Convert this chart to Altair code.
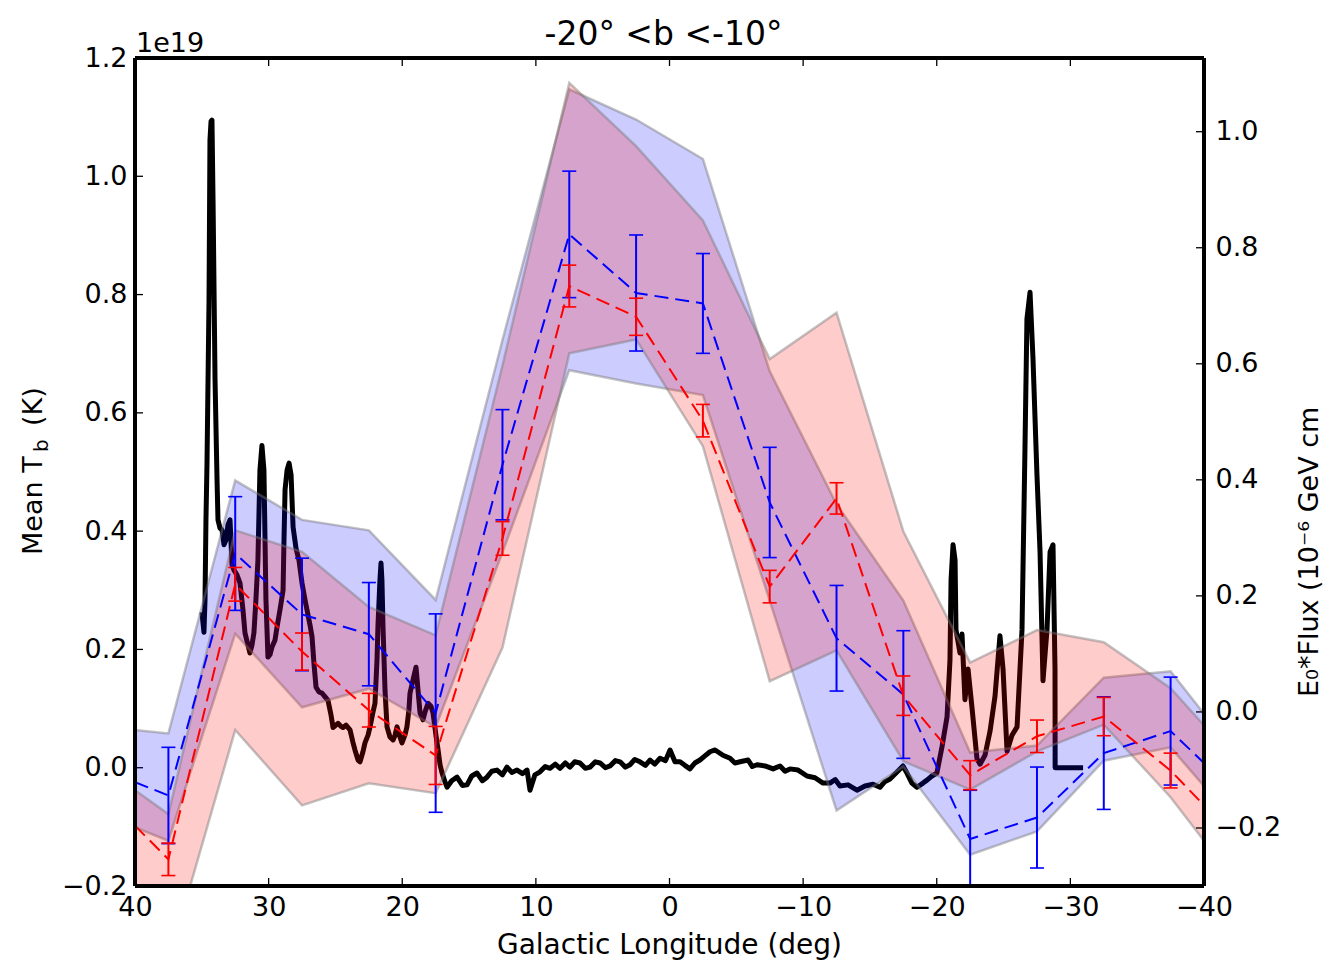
import altair as alt
import pandas as pd

# ---------------- data ----------------
# longitude bins (edges at +/-40 are the plot borders)
L_LINE = [40, 37.5, 32.5, 27.5, 22.5, 17.5, 12.5, 7.5, 2.5, -2.5, -7.5,
          -12.5, -17.5, -22.5, -27.5, -32.5, -37.5, -40]
BLUE_MEAN = [-0.121, -0.144, 0.273, 0.168, 0.134, -0.002, 0.426, 0.823, 0.722,
             0.704, 0.361, 0.127, 0.030, -0.219, -0.182, -0.071, -0.033, -0.088]
RED_MEAN = [-0.196, -0.254, 0.220, 0.104, 0.003, -0.075, 0.299, 0.734, 0.681,
            0.502, 0.216, 0.368, 0.028, -0.109, -0.042, -0.008, -0.101, -0.161]

L_ERR = [37.5, 32.5, 27.5, 22.5, 17.5, 12.5, 7.5, 2.5, -2.5, -7.5,
         -12.5, -17.5, -22.5, -27.5, -32.5, -37.5]
BLUE_ERR = [0.083, 0.098, 0.097, 0.089, 0.171, 0.095, 0.109, 0.100, 0.086,
            0.095, 0.091, 0.110, 0.084, 0.087, 0.097, 0.093]
RED_ERR = [0.028, 0.029, 0.032, 0.029, 0.050, 0.029, 0.036, 0.032, 0.028,
           0.028, 0.027, 0.034, 0.025, 0.028, 0.033, 0.030]

BLUE_HI = [-0.031, -0.037, 0.399, 0.331, 0.313, 0.193, 0.641, 1.073, 1.021,
           0.953, 0.587, 0.358, 0.192, -0.070, -0.058, 0.059, 0.070, -0.003]
BLUE_LO = [-0.199, -0.222, 0.135, 0.008, 0.040, -0.026, 0.275, 0.589, 0.566,
           0.546, 0.192, -0.170, -0.094, -0.246, -0.206, -0.084, -0.061, -0.128]
RED_HI = [-0.135, -0.176, 0.313, 0.276, 0.181, 0.132, 0.597, 1.084, 0.975,
          0.847, 0.608, 0.688, 0.311, 0.085, 0.141, 0.120, 0.041, -0.023]
RED_LO = [-0.550, -0.430, -0.031, -0.161, -0.123, -0.140, 0.111, 0.618, 0.642,
          0.458, 0.053, 0.106, -0.085, -0.134, -0.068, -0.022, -0.147, -0.222]

# mean brightness temperature profile (units of 1e19 K)
TB_L = [34.99, 34.84, 34.76, 34.69, 34.61, 34.46, 34.39, 34.31, 34.24, 34.16,
        34.01, 33.86, 33.79, 33.64, 33.49, 33.34, 33.19, 33.04, 32.89, 32.74,
        32.59, 32.37, 32.14, 31.92, 31.77, 31.54, 31.40, 31.25, 31.10, 30.95,
        30.80, 30.65, 30.50, 30.35, 30.20, 30.05, 29.90, 29.75, 29.52, 29.37,
        29.15, 28.92, 28.85, 28.77, 28.62, 28.47, 28.32, 28.17, 27.95, 27.73,
        27.50, 27.28, 27.13, 26.90, 26.75, 26.60, 26.45, 26.23, 26.01, 25.78,
        25.56, 25.33, 25.18, 24.96, 24.81, 24.59, 24.43, 24.21, 23.91, 23.69,
        23.54, 23.31, 23.16, 22.94, 22.79, 22.56, 22.41, 22.19, 22.04, 21.89,
        21.82, 21.67, 21.59, 21.52, 21.44, 21.29, 21.14, 20.92, 20.69, 20.54,
        20.39, 20.17, 20.02, 19.80, 19.65, 19.50, 19.42, 19.20, 18.97, 18.82,
        18.67, 18.45, 18.30, 18.07, 17.85, 17.70, 17.48, 17.32, 17.17, 17.02,
        16.80, 16.65, 16.30, 15.90, 15.50, 15.15, 14.80, 14.41, 14.00, 13.66,
        13.30, 12.91, 12.50, 12.16, 11.80, 11.41, 11.00, 10.66,
        10.44, 10.07, 9.69, 9.30, 8.94, 8.55, 8.19, 7.80, 7.45, 7.10, 6.70,
        6.30, 5.95, 5.55, 5.20, 4.80, 4.45,
        4.05, 3.70, 3.30, 2.96, 2.60, 2.21, 1.80, 1.46, 1.10, 0.71, 0.30,
        -0.04, -0.41, -0.79, -1.15, -1.53, -1.90, -2.28,
        -2.65, -3.03, -3.41, -4.00, -4.53, -4.90, -5.28, -5.88, -6.20, -6.55,
        -7.15, -7.75, -8.27, -8.65,
        -9.02, -9.62, -10.29, -10.89, -11.49, -12.01, -12.40, -12.76, -13.36,
        -14.03, -14.63, -15.23, -15.75, -16.10, -16.50, -17.25, -17.47, -17.77,
        -18.14, -18.52, -18.97, -19.27,
        -19.64, -20.01, -20.39, -20.77, -20.99, -21.07, -21.22, -21.37, -21.44, -21.74,
        -21.89, -22.11, -22.34, -22.64, -23.01, -23.24, -23.61, -23.99, -24.36, -24.73,
        -24.96, -25.26, -25.63, -26.01, -26.38, -26.60, -26.75, -26.98, -27.20, -27.50,
        -27.73, -27.95, -28.25, -28.48, -28.70, -28.85, -28.86, -30.95]
TB_VAL = [0.263, 0.229, 0.284, 0.419, 0.517, 0.791, 1.061, 1.093, 1.095, 0.960,
          0.656, 0.486, 0.419, 0.405, 0.402, 0.377, 0.385, 0.411, 0.419, 0.343,
          0.334, 0.326, 0.312, 0.267, 0.228, 0.207, 0.194, 0.207, 0.228, 0.284,
          0.351, 0.503, 0.545, 0.503, 0.284, 0.187, 0.191, 0.204, 0.216, 0.238,
          0.267, 0.300, 0.385, 0.470, 0.503, 0.515, 0.495, 0.407, 0.371, 0.351,
          0.312, 0.284, 0.267, 0.241, 0.221, 0.174, 0.136, 0.128, 0.126, 0.120,
          0.114, 0.089, 0.068, 0.072, 0.075, 0.070, 0.068, 0.072, 0.064, 0.043,
          0.030, 0.013, 0.010, 0.027, 0.042, 0.055, 0.069, 0.094, 0.109, 0.182,
          0.238, 0.317, 0.346, 0.317, 0.238, 0.131, 0.069, 0.052, 0.047, 0.055,
          0.069, 0.052, 0.042, 0.055, 0.069, 0.098, 0.126, 0.148, 0.170, 0.131,
          0.093, 0.081, 0.094, 0.109, 0.104, 0.093, 0.055, 0.030, 0.005, -0.009,
          -0.024, -0.033, -0.022, -0.016, -0.030, -0.029, -0.014, -0.009, -0.022, -0.016,
          -0.006, -0.004, -0.012, 0.001, -0.008, -0.004, -0.010, -0.004,
          -0.038, -0.012, -0.007, 0.002, -0.001, 0.006, -0.001, 0.008, 0.001, 0.010, 0.008,
          -0.001, 0.001, 0.010, 0.008, 0.000, 0.003,
          0.012, 0.010, 0.001, 0.005, 0.014, 0.010, 0.004, 0.013, 0.006, 0.016, 0.012,
          0.030, 0.010, 0.010, 0.004, -0.002, 0.008, 0.013,
          0.020, 0.027, 0.030, 0.021, 0.016, 0.008, 0.010, 0.013, 0.002, 0.005,
          0.003, -0.002, 0.003, -0.006,
          -0.002, -0.004, -0.014, -0.017, -0.026, -0.026, -0.020, -0.031, -0.029,
          -0.038, -0.031, -0.028, -0.033, -0.024, -0.019, -0.002, 0.003, -0.009,
          -0.026, -0.033, -0.026, -0.021,
          -0.014, -0.009, 0.035, 0.086, 0.182, 0.317, 0.377, 0.351, 0.233, 0.194,
          0.226, 0.115, 0.167, 0.101, 0.015, 0.006, 0.021, 0.062, 0.121, 0.223,
          0.167, 0.028, 0.055, 0.069, 0.233, 0.537, 0.759, 0.804, 0.693, 0.495,
          0.365, 0.147, 0.233, 0.365, 0.377, 0.167, 0.000, 0.000]

X_TICKS = [40, 30, 20, 10, 0, -10, -20, -30, -40]
LEFT_TICKS = [-0.2, 0.0, 0.2, 0.4, 0.6, 0.8, 1.0, 1.2]
RIGHT_TICKS = [-0.2, 0.0, 0.2, 0.4, 0.6, 0.8, 1.0]
LEFT_DOMAIN = [-0.2, 1.2]
RIGHT_DOMAIN = [-0.3, 1.127]

TITLE = "-20°  <b <-10°"
X_TITLE = "Galactic Longitude (deg)"
Y_TITLE_MAIN = "Mean T"
Y_TITLE_SUB = "b"
Y_TITLE_END = "(K)"
Y2_TITLE = "E₀*Flux (10⁻⁶ GeV cm"
OFFSET_TEXT = "1e19"

# ---------------- layout ----------------
W, H = 1069, 828
FONT = "DejaVu Sans"
TICK_LEN = 8

x_axis = alt.Axis(values=X_TICKS, format="d", labelFontSize=27, labelPadding=8,
                  ticks=False, domain=False, grid=False, title=None,
                  labelFlush=False, labelOverlap=False, labelColor="black",
                  labelFont=FONT)
left_axis = alt.Axis(values=LEFT_TICKS, format=".1f", labelFontSize=27,
                     labelPadding=8, ticks=False, domain=False, grid=False,
                     title=None, labelOverlap=False, labelColor="black",
                     labelFont=FONT)
right_axis = alt.Axis(orient="right", values=RIGHT_TICKS, format=".1f",
                      labelFontSize=27, labelPadding=11, ticks=False,
                      domain=False, grid=False, title=None, labelOverlap=False,
                      labelColor="black", labelFont=FONT)

xs = alt.Scale(domain=[-40, 40], reverse=True, nice=False, zero=False)
ls = alt.Scale(domain=LEFT_DOMAIN, nice=False, zero=False)
rs = alt.Scale(domain=RIGHT_DOMAIN, nice=False, zero=False)


def X(field="l"):
    return alt.X(f"{field}:Q", scale=xs, axis=x_axis)


def YL(field):
    return alt.Y(f"{field}:Q", scale=ls, axis=left_axis)


def YR(field):
    return alt.Y(f"{field}:Q", scale=rs, axis=right_axis)


# ---------------- data frames ----------------
tb = pd.DataFrame({"l": TB_L, "tb": TB_VAL, "i": range(len(TB_L))})
bands = pd.DataFrame({"l": L_LINE, "bh": BLUE_HI, "bl": BLUE_LO,
                      "rh": RED_HI, "rl": RED_LO,
                      "bm": BLUE_MEAN, "rm": RED_MEAN})
err = pd.DataFrame({"l": L_ERR, "b": BLUE_MEAN[1:-1], "be": BLUE_ERR,
                    "r": RED_MEAN[1:-1], "re": RED_ERR})
err["b_lo"] = err["b"] - err["be"]
err["b_hi"] = err["b"] + err["be"]
err["r_lo"] = err["r"] - err["re"]
err["r_hi"] = err["r"] + err["re"]
caps_b = pd.DataFrame({"l": L_ERR * 2, "v": list(err["b_lo"]) + list(err["b_hi"])})
caps_r = pd.DataFrame({"l": L_ERR * 2, "v": list(err["r_lo"]) + list(err["r_hi"])})

xt = pd.DataFrame({"l": X_TICKS})
lt = pd.DataFrame({"v": LEFT_TICKS})
rt = pd.DataFrame({"v": RIGHT_TICKS})

# ---------------- left-axis group ----------------
tb_line = alt.Chart(tb).mark_line(color="black", strokeWidth=5, clip=True,
                                  strokeJoin="round").encode(
    x=X(), y=YL("tb"), order="i:Q")

left_ticks = alt.Chart(lt).mark_rule(color="black", strokeWidth=1.3).encode(
    y=YL("v"), x=alt.value(0), x2=alt.value(TICK_LEN))
bottom_ticks = alt.Chart(xt).mark_rule(color="black", strokeWidth=1.3).encode(
    x=X(), y=alt.value(H - TICK_LEN), y2=alt.value(H))
top_ticks = alt.Chart(xt).mark_rule(color="black", strokeWidth=1.3).encode(
    x=X(), y=alt.value(0), y2=alt.value(TICK_LEN))


def label(txt, x, y, size, angle=0, align="left", baseline="alphabetic"):
    return alt.Chart(pd.DataFrame({"t": [txt]})).mark_text(
        font=FONT, fontSize=size, angle=angle, align=align,
        baseline=baseline, color="black").encode(
        text="t:N", x=alt.value(x), y=alt.value(y))


texts = [
    label(TITLE, W / 2 - 6, -13, 33, align="center"),
    label(OFFSET_TEXT, 1, -6, 27),
    label(X_TITLE, W / 2, 896, 28, align="center"),
    label(Y_TITLE_MAIN, -93, 497, 27, angle=270),
    label(Y_TITLE_SUB, -87, 394, 20, angle=270),
    label(Y_TITLE_END, -93, 368, 27, angle=270),
    label(Y2_TITLE, 1183, 639, 27, angle=270),
]

# plot frame drawn as rules on the four sides
frame_l = alt.Chart(xt).mark_rule(color="black", strokeWidth=3).encode(
    x=alt.value(0), y=alt.value(0), y2=alt.value(H))
frame_r = alt.Chart(xt).mark_rule(color="black", strokeWidth=3).encode(
    x=alt.value(W), y=alt.value(0), y2=alt.value(H))
frame_t = alt.Chart(xt).mark_rule(color="black", strokeWidth=3).encode(
    y=alt.value(0), x=alt.value(0), x2=alt.value(W))
frame_b = alt.Chart(xt).mark_rule(color="black", strokeWidth=3).encode(
    y=alt.value(H), x=alt.value(0), x2=alt.value(W))

left_group = alt.layer(tb_line, left_ticks, bottom_ticks, top_ticks, *texts)

# ---------------- right-axis group ----------------
base_b = alt.Chart(bands)
blue_band = base_b.mark_area(color="#0000ff", fillOpacity=0.2, clip=True,
                             stroke="#777777", strokeOpacity=0.45,
                             strokeWidth=2.5).encode(
    x=X(), y=YR("bh"), y2="bl:Q")
red_band = base_b.mark_area(color="#ff0000", fillOpacity=0.2, clip=True,
                            stroke="#777777", strokeOpacity=0.45,
                            strokeWidth=2.5).encode(
    x=X(), y=YR("rh"), y2="rl:Q")
blue_line = base_b.mark_line(color="#0000ff", strokeWidth=2, clip=True,
                             strokeDash=[14, 7]).encode(x=X(), y=YR("bm"))
red_line = base_b.mark_line(color="#ff0000", strokeWidth=2, clip=True,
                            strokeDash=[14, 7]).encode(x=X(), y=YR("rm"))

base_e = alt.Chart(err)
blue_err = base_e.mark_rule(color="#0000ff", strokeWidth=2, clip=True).encode(
    x=X(), y=YR("b_lo"), y2="b_hi:Q")
red_err = base_e.mark_rule(color="#ff0000", strokeWidth=2, clip=True).encode(
    x=X(), y=YR("r_lo"), y2="r_hi:Q")
cap_shape = "M-1,0L1,0"
blue_caps = alt.Chart(caps_b).mark_point(shape=cap_shape, size=196, filled=False,
                                         color="#0000ff", strokeWidth=1.6,
                                         opacity=1, clip=True).encode(
    x=X(), y=YR("v"))
red_caps = alt.Chart(caps_r).mark_point(shape=cap_shape, size=196, filled=False,
                                        color="#ff0000", strokeWidth=1.6,
                                        opacity=1, clip=True).encode(
    x=X(), y=YR("v"))
right_ticks = alt.Chart(rt).mark_rule(color="black", strokeWidth=1.3).encode(
    y=YR("v"), x=alt.value(W - TICK_LEN), x2=alt.value(W))

right_group = alt.layer(blue_band, red_band, blue_line, blue_err, blue_caps,
                        red_line, red_err, red_caps, right_ticks,
                        frame_l, frame_r, frame_t, frame_b)

chart = alt.layer(left_group, right_group).resolve_scale(y="independent").properties(
    width=W, height=H,
    padding={"left": 135, "top": 58, "right": 124, "bottom": 77},
    autosize=alt.AutoSizeParams(type="none"),
    background="white",
).configure(font=FONT).configure_view(stroke=None)

chart.save("out.html", embed_options={"renderer": "svg", "actions": False})
